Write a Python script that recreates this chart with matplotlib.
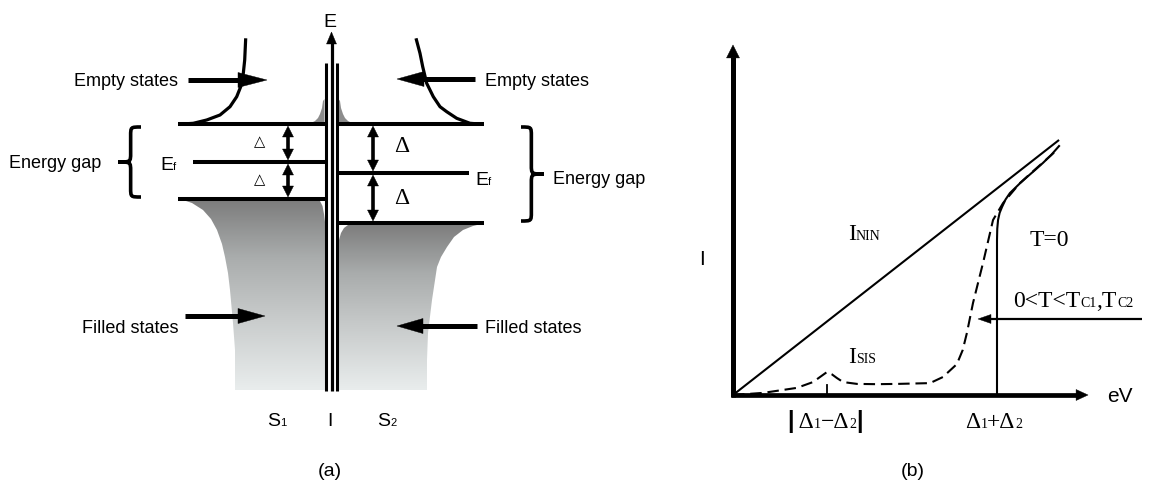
import matplotlib
matplotlib.use("Agg")
import matplotlib.pyplot as plt
import numpy as np
from matplotlib.patches import Polygon, PathPatch
from matplotlib.path import Path
from matplotlib import font_manager as fm
from matplotlib.colors import LinearSegmentedColormap

W, H, DPI = 1161, 491, 100

# ------------------------------------------------------------------ fonts
def have(name):
    try:
        fm.findfont(fm.FontProperties(family=name), fallback_to_default=False)
        return True
    except Exception:
        return False

if have("Liberation Sans Narrow"):
    SANS, SZ = "Liberation Sans Narrow", 15.5
else:
    SANS, SZ = "Liberation Sans", 13
SERIF = "Liberation Serif"
SER_BIG, SER_SMALL = 17, 10

# ================================================================== DATA
# ---- panel (a): band diagram of an S-I-S junction (schematic, pixel space)
BARRIER_X = [326, 331.5, 337]
BARRIER_Y = (63, 391)
E_AXIS_TIP = 32
S1_LEVEL_Y = [124, 162, 199]            # gap top, Fermi level, gap bottom
S1_LEVEL_X0 = [178, 193, 178]
S2_LEVEL_Y = [124, 173, 223]
S2_LEVEL_X1 = [484, 469, 484]
S1_ARROW_X = 288
S2_ARROW_X = 373

# empty-state density-of-states curves
DOS1_X = [178.3, 193.3, 206.7, 220.0, 230.0, 236.7, 240.7, 243.3, 244.7, 245.7]
DOS1_Y = [124.3, 123.3, 120.0, 115.0, 106.7, 96.7, 86.7, 73.3, 60.0, 38.3]
DOS2_X = [483.3, 470.0, 456.7, 446.7, 440.0, 433.3, 426.7, 422.7, 420.0, 416.0]
DOS2_Y = [124.3, 123.3, 118.3, 111.7, 106.7, 96.7, 83.3, 66.7, 53.3, 38.3]

# filled-state regions
S1_FILL_X = [180, 192, 203, 211, 217, 222, 225, 228, 230, 233, 235, 235, 325, 325, 324, 322.5, 320, 316]
S1_FILL_Y = [199, 203, 210, 219, 230, 244, 257, 273, 290, 323, 350, 390, 390, 222, 214, 206, 201, 199]
S2_FILL_X = [338, 338, 339, 341, 344, 348, 353, 483, 473, 463, 454, 447, 441, 437, 432, 428, 427, 427]
S2_FILL_Y = [390, 250, 240, 233, 228, 225, 223.5, 223.5, 226, 230, 237, 247, 257, 267, 300, 333, 360, 390]
TAIL1_X = [311, 315, 318, 320, 322, 323, 324.5, 324.5]
TAIL1_Y = [123, 121, 118, 114, 108, 101, 99, 123]
TAIL2_X = [338.5, 338.5, 340, 341, 343, 345, 348, 352]
TAIL2_Y = [123, 99, 101, 108, 114, 118, 121, 123]
FILL_STOPS = [(0.0, "#7c7c7c"), (0.3, "#a9acac"), (0.6, "#c6c9c9"), (1.0, "#e9eded")]

# ---- panel (b): I-V characteristics (units: eV in (D1+D2), I in same scale)
ORIGIN_PX = (733, 395)
PX_PER_UNIT = 264
NIN_V = [0.0, 1.235]
NIN_I = [0.0, 0.966]
T0_V = [0.0, 1.0, 1.0, 1.0, 1.001, 1.004, 1.010, 1.019, 1.032, 1.049, 1.085, 1.114, 1.145, 1.174, 1.205, 1.235]
T0_I = [0.0, 0.0, 0.40, 0.587, 0.630, 0.663, 0.690, 0.712, 0.740, 0.765, 0.800, 0.826, 0.853, 0.879, 0.909, 0.943]
TFIN_V = [0.0, 0.114, 0.242, 0.303, 0.335, 0.356, 0.375, 0.394, 0.417, 0.470, 0.545, 0.621,
          0.746, 0.795, 0.848, 0.870, 0.886, 0.909, 0.947, 0.985, 1.023, 1.087, 1.163, 1.227]
TFIN_I = [0.0, 0.008, 0.027, 0.049, 0.072, 0.087, 0.078, 0.064, 0.049, 0.042, 0.041, 0.042,
          0.045, 0.068, 0.117, 0.170, 0.235, 0.348, 0.500, 0.663, 0.727, 0.803, 0.871, 0.928]
DIFF_TICK_V = 0.356              # |D1 - D2|
SUM_TICK_V = 1.0                 # D1 + D2
V_AXIS_MAX = 1.345
I_AXIS_MAX = 1.326
TC_ARROW_V = (1.549, 0.928)
TC_ARROW_I = 0.288

# ================================================================== FIGURE
fig = plt.figure(figsize=(W / DPI, H / DPI), dpi=DPI)
fig.patch.set_facecolor("white")
ax = fig.add_axes([0, 0, 1, 1])
ax.set_xlim(0, W)
ax.set_ylim(H, 0)
ax.axis("off")

axb = fig.add_axes([0, 0, 1, 1])
axb.set_xlim(-ORIGIN_PX[0] / PX_PER_UNIT, (W - ORIGIN_PX[0]) / PX_PER_UNIT)
axb.set_ylim((ORIGIN_PX[1] - H) / PX_PER_UNIT, ORIGIN_PX[1] / PX_PER_UNIT)
axb.axis("off")
axb.patch.set_alpha(0)
U = 1.0 / PX_PER_UNIT  # one pixel in panel (b) data units


def arrow(a, x0, y0, x1, y1, lw, hl, hw, color="k", z=5, both=False):
    p0, p1 = np.array([x0, y0], float), np.array([x1, y1], float)
    d = p1 - p0
    u = d / np.hypot(*d)
    s0 = p0 + u * hl * 0.9 if both else p0
    s1 = p1 - u * hl * 0.9
    a.plot([s0[0], s1[0]], [s0[1], s1[1]], lw=lw, color=color,
           solid_capstyle="butt", zorder=z)
    tips = [(p1, u)] + ([(p0, -u)] if both else [])
    for tip, uu in tips:
        base = tip - uu * hl
        nn = np.array([-uu[1], uu[0]])
        a.add_patch(Polygon([tip, base + nn * hw, base - nn * hw], closed=True,
                            fc=color, ec=color, lw=0.3, zorder=z))


def gradient_fill(a, xs, ys, stops, z=1):
    poly = Polygon(np.column_stack([xs, ys]), closed=True, fc="none", ec="none")
    a.add_patch(poly)
    grad = np.linspace(0, 1, 256).reshape(-1, 1)
    cmap = LinearSegmentedColormap.from_list("g", stops)
    im = a.imshow(grad, cmap=cmap, extent=(min(xs), max(xs), max(ys), min(ys)),
                  aspect="auto", zorder=z, interpolation="bilinear", origin="upper")
    im.set_clip_path(poly)


def brace(a, x_end, x_tip, y0, y1, lw, r=9):
    xm = x_end + (x_tip - x_end) * 0.45
    ym = (y0 + y1) / 2
    verts = [(x_end, y0), (xm, y0), (xm, y0), (xm, y0 + r),
             (xm, ym - r),
             (xm, ym), (xm, ym), (x_tip, ym),
             (xm, ym), (xm, ym), (xm, ym + r),
             (xm, y1 - r),
             (xm, y1), (xm, y1), (x_end, y1)]
    codes = [Path.MOVETO, Path.CURVE4, Path.CURVE4, Path.CURVE4,
             Path.LINETO,
             Path.CURVE4, Path.CURVE4, Path.CURVE4,
             Path.CURVE4, Path.CURVE4, Path.CURVE4,
             Path.LINETO,
             Path.CURVE4, Path.CURVE4, Path.CURVE4]
    a.add_patch(PathPatch(Path(verts, codes), fc="none", ec="k", lw=lw,
                          capstyle="butt", zorder=5))


renderer = fig.canvas.get_renderer()


def rich(x, y, pieces, ha="left"):
    """pieces: (text, size, family, weight); y is the baseline (pixels)."""
    texts, cur = [], x
    for s, size, fam, wt in pieces:
        t = ax.text(cur, y, s, fontsize=size, family=fam, weight=wt,
                    va="baseline", ha="left", zorder=8)
        cur += t.get_window_extent(renderer=renderer).width
        texts.append(t)
    total = cur - x
    if ha == "center":
        for t in texts:
            t.set_x(t.get_position()[0] - total / 2)
    elif ha == "right":
        for t in texts:
            t.set_x(t.get_position()[0] - total)


# ================================================================== PANEL (a)
gradient_fill(ax, S1_FILL_X, S1_FILL_Y, FILL_STOPS)
gradient_fill(ax, S2_FILL_X, S2_FILL_Y, FILL_STOPS)
ax.add_patch(Polygon(np.column_stack([TAIL1_X, TAIL1_Y]), closed=True,
                     fc="#8c8c8c", ec="none", zorder=2))
ax.add_patch(Polygon(np.column_stack([TAIL2_X, TAIL2_Y]), closed=True,
                     fc="#8c8c8c", ec="none", zorder=2))

# energy levels
for y, x0 in zip(S1_LEVEL_Y, S1_LEVEL_X0):
    ax.plot([x0, BARRIER_X[0]], [y, y], color="k", lw=2.9, solid_capstyle="butt", zorder=4)
for y, x1 in zip(S2_LEVEL_Y, S2_LEVEL_X1):
    ax.plot([BARRIER_X[2], x1], [y, y], color="k", lw=2.9, solid_capstyle="butt", zorder=4)

# barrier and energy axis
ax.plot([BARRIER_X[0]] * 2, BARRIER_Y, color="k", lw=2.2, solid_capstyle="butt", zorder=6)
ax.plot([BARRIER_X[2]] * 2, BARRIER_Y, color="k", lw=2.2, solid_capstyle="butt", zorder=6)
arrow(ax, BARRIER_X[1], BARRIER_Y[1], BARRIER_X[1], E_AXIS_TIP, lw=2.3, hl=12, hw=5, z=6)

# density of states curves
ax.plot(DOS1_X, DOS1_Y, color="k", lw=2.3, solid_capstyle="butt", zorder=4)
ax.plot(DOS2_X, DOS2_Y, color="k", lw=2.3, solid_capstyle="butt", zorder=4)

# gap double arrows
for ya, yb in zip(S1_LEVEL_Y[:-1], S1_LEVEL_Y[1:]):
    arrow(ax, S1_ARROW_X, ya + 2, S1_ARROW_X, yb - 2, lw=2.6, hl=11, hw=5.5, both=True)
for ya, yb in zip(S2_LEVEL_Y[:-1], S2_LEVEL_Y[1:]):
    arrow(ax, S2_ARROW_X, ya + 2, S2_ARROW_X, yb - 2, lw=2.6, hl=11, hw=5.5, both=True)

# labelling arrows
arrow(ax, 188, 80, 267, 80, lw=3.6, hl=29, hw=7.5)
arrow(ax, 475, 79, 397, 79, lw=3.6, hl=27, hw=7.5)
arrow(ax, 185, 316, 265, 316, lw=3.6, hl=27, hw=7.5)
arrow(ax, 477, 326, 397, 326, lw=3.6, hl=26, hw=7.5)

# braces
brace(ax, 141, 118, 127, 197, lw=2.6)
brace(ax, 521, 544, 127, 221, lw=2.6)

# texts panel (a)
sp = (SANS, "normal")
rich(330, 27, [("E", SZ + 1, *sp)], ha="center")
rich(178, 86, [("Empty states", SZ, *sp)], ha="right")
rich(485, 86, [("Empty states", SZ, *sp)])
rich(9, 168, [("Energy gap", SZ, *sp)])
rich(553, 184, [("Energy gap", SZ, *sp)])
rich(179, 333, [("Filled states", SZ, *sp)], ha="right")
rich(485, 333, [("Filled states", SZ, *sp)])
rich(160, 170, [("E", SZ + 1, *sp), ("f", SZ - 5, *sp)])
rich(475, 185, [("E", SZ + 1, *sp), ("f", SZ - 5, *sp)])
rich(267, 426, [("S", SZ + 1, *sp), ("1", SZ - 5, *sp)])
rich(330, 426, [("I", SZ + 1, *sp)], ha="center")
rich(377, 426, [("S", SZ + 1, *sp), ("2", SZ - 5, *sp)])
ax.text(330, 471, "(a)", fontsize=SZ + 1, family=SANS, ha="center", va="center")

for yc in (142, 180):
    ax.text(260, yc, "\u25b3", fontsize=10.5, family="DejaVu Sans", ha="center", va="center")
for yc in (147, 198):
    ax.text(402, yc, "\u0394", fontsize=SER_BIG, family=SERIF, ha="center", va="center")

# ================================================================== PANEL (b)
axb.plot(NIN_V, NIN_I, color="k", lw=1.5, solid_capstyle="butt", zorder=4)
axb.plot(T0_V, T0_I, color="k", lw=1.5, zorder=4)
axb.plot(TFIN_V, TFIN_I, color="k", lw=1.5, linestyle=(0, (5.5, 2.8)), zorder=4)
axb.plot([DIFF_TICK_V] * 2, [0, 10 * U], color="k", lw=1.3, zorder=4)

# axes
arrow(axb, 0, -2 * U, 0, I_AXIS_MAX, lw=3.6, hl=13 * U, hw=6.5 * U, z=6)
arrow(axb, -2 * U, 0, V_AXIS_MAX, 0, lw=3.4, hl=12 * U, hw=5.5 * U, z=6)
arrow(axb, TC_ARROW_V[0], TC_ARROW_I, TC_ARROW_V[1], TC_ARROW_I, lw=1.6,
      hl=13 * U, hw=4.5 * U, z=6)

# texts panel (b)
S_BIG = (SERIF, "normal")
rich(848, 240, [("I", SER_BIG, *S_BIG), ("NIN", SER_SMALL, *S_BIG)])
rich(1030, 246, [("T=0", SER_BIG, *S_BIG)])
rich(1013, 307, [("0<T<T", SER_BIG, *S_BIG), ("C1", SER_SMALL, *S_BIG),
                 (",T", SER_BIG, *S_BIG), ("C2", SER_SMALL, *S_BIG)])
rich(848, 363, [("I", SER_BIG, *S_BIG), ("SIS", SER_SMALL, *S_BIG)])
rich(825, 428, [("|", SER_BIG, SANS, "bold"), (" \u0394", SER_BIG, *S_BIG),
                ("1", SER_SMALL, *S_BIG), ("\u2212\u0394", SER_BIG, *S_BIG),
                ("2", SER_SMALL, *S_BIG), ("|", SER_BIG, SANS, "bold")], ha="center")
rich(994, 428, [("\u0394", SER_BIG, *S_BIG), ("1", SER_SMALL, *S_BIG),
                ("+\u0394", SER_BIG, *S_BIG), ("2", SER_SMALL, *S_BIG)], ha="center")
rich(702, 265, [("I", SZ + 2, *sp)], ha="center")
rich(1107, 402, [("eV", SZ + 2, *sp)])
ax.text(913, 472, "(b)", fontsize=SZ + 1, family=SANS, ha="center", va="center")

fig.savefig("out.png", dpi=DPI)
